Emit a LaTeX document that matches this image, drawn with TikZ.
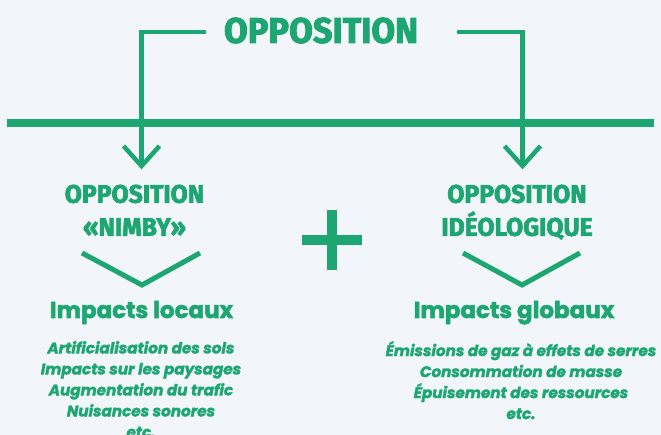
\documentclass[tikz,border=0pt]{standalone}
\usepackage{fontspec}
\newfontfamily\headfont[FakeStretch=0.97,BoldFeatures={FakeBold=2.6}]{Fira Sans}
\newfontfamily\popfont[BoldFeatures={FakeBold=2.4},BoldItalicFeatures={FakeBold=2.2}]{Poppins}
\definecolor{oppgreen}{HTML}{1EA672}
\definecolor{bgcol}{HTML}{F2F6FA}
\begin{document}
\begin{tikzpicture}[x=1pt,y=-1pt,
  ln/.style={draw=oppgreen,line width=4.5pt},
  mainln/.style={draw=oppgreen,line width=8pt},
  chev/.style={draw=oppgreen,line width=5pt,line join=miter},
  title/.style={text=oppgreen,font=\headfont\bfseries\fontsize{35.5}{36}\selectfont,inner sep=0pt},
  head/.style={text=oppgreen,font=\headfont\bfseries\fontsize{25.5}{33}\selectfont,align=center,inner sep=0pt},
  impact/.style={text=oppgreen,font=\popfont\bfseries\fontsize{23}{26}\selectfont,inner sep=0pt},
  items/.style={text=oppgreen,font=\popfont\bfseries\itshape\fontsize{15.2}{21}\selectfont,align=center,inner sep=0pt}
  ]
\fill[bgcol] (0,0) rectangle (661,435);
\useasboundingbox (0,0) rectangle (661,435);

\node[title] (t) at (321,30.5) {OPPOSITION};

% main horizontal line
\coordinate (h1) at (7,123);
\coordinate (h2) at (654,123);
\draw[mainln] (h1) -- (h2);

% bracket with arrows
\coordinate (ls) at (206,32);
\coordinate (lc) at (141.5,32);
\coordinate (la) at (141.5,166);
\coordinate (rs) at (457,32);
\coordinate (rc) at (522.5,32);
\coordinate (ra) at (522.5,166);
\draw[ln,line join=miter] (ls) -- (lc) -- (la);
\draw[ln,line join=miter] (rs) -- (rc) -- (ra);
\draw[ln,line join=miter] ([shift={(-18,-20)}]la) -- (la) -- ([shift={(18,-20)}]la);
\draw[ln,line join=miter] ([shift={(-18,-20)}]ra) -- (ra) -- ([shift={(18,-20)}]ra);

% headers
\node[head,anchor=north] (lh) at (134.5,184.5) {OPPOSITION\\«NIMBY»};
\node[head,anchor=north] (rh) at (517,184.5) {OPPOSITION\\IDÉOLOGIQUE};

% chevrons
\coordinate (lv) at (142,285);
\coordinate (rv) at (522,285);
\draw[chev] (82,253) -- (lv) -- (200,253);
\draw[chev] (463,253) -- (rv) -- (580,253);

% plus
\coordinate (pc) at (332,240);
\draw[oppgreen,line width=10pt] ([xshift=-30]pc) -- ([xshift=30]pc);
\draw[oppgreen,line width=10pt] ([yshift=-30]pc) -- ([yshift=30]pc);

% impacts
\node[impact,anchor=base] (li) at (141.5,318) {Impacts locaux};
\node[impact,anchor=base] (ri) at (514,318) {Impacts globaux};

% items
\node[items,anchor=north] (ll) at (141,341) {Artificialisation des sols\\Impacts sur les paysages\\Augmentation du trafic\\Nuisances sonores\\etc.};
\node[items,anchor=north] (rl) at (521,341) {Émissions de gaz à effets de serres\\Consommation de masse\\Épuisement des ressources\\etc.};
\end{tikzpicture}
\end{document}
